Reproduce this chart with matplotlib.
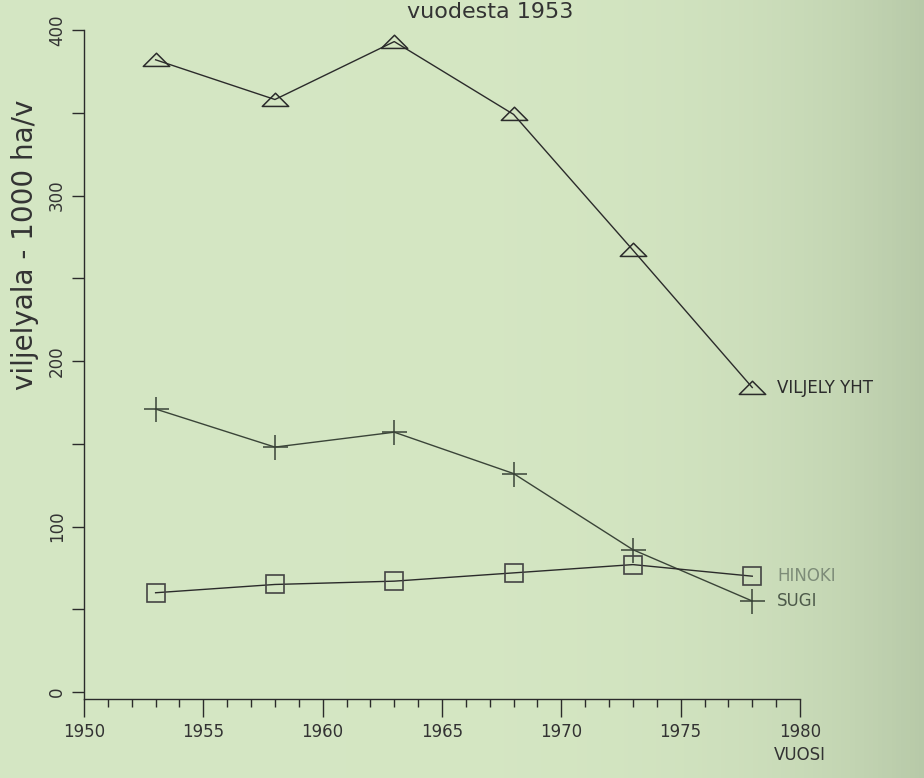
import numpy as np
import matplotlib.pyplot as plt
from matplotlib.path import Path
from matplotlib.ticker import MultipleLocator

# data (1000 ha per year)
years = [1953, 1958, 1963, 1968, 1973, 1978]
viljely_yht = [382, 358, 393, 349, 267, 184]
sugi = [171, 148, 157, 132, 86, 55]
hinoki = [60, 65, 67, 72, 77, 70]

series_labels = ['VILJELY YHT', 'HINOKI', 'SUGI']
x_ticks = [1950, 1955, 1960, 1965, 1970, 1975, 1980]
y_ticks = [0, 100, 200, 300, 400]

bg = '#d3e5bf'
ink = '#2b2b2b'

W, H = 924, 778
fig = plt.figure(figsize=(W / 100, H / 100), dpi=100, facecolor=bg)

# paper background, darker only near the right edge like the scan
bg_ax = fig.add_axes([0, 0, 1, 1], zorder=-1)
grad = np.linspace(0, 1, 200) ** 6
rgb_a = np.array([0.835, 0.905, 0.765])
rgb_b = np.array([0.72, 0.79, 0.66])
img = rgb_a[None, None, :] + (rgb_b - rgb_a)[None, None, :] * grad[None, :, None]
bg_ax.imshow(img, aspect='auto', extent=[0, 1, 0, 1])
bg_ax.axis('off')

ax = fig.add_axes([84 / W, 1 - 699 / H, (800 - 84) / W, (699 - 30) / H])
ax.patch.set_alpha(0)

# flattened triangle like the plotter symbol
tri = Path([(-1.0, -0.45), (1.0, -0.45), (0.0, 0.55), (-1.0, -0.45)],
           [Path.MOVETO, Path.LINETO, Path.LINETO, Path.CLOSEPOLY])

ax.plot(years, viljely_yht, color=ink, lw=1.0, marker=tri, ms=19,
        mfc='none', mec=ink, mew=1.1)
ax.plot(years, sugi, color='#3a4438', lw=1.0, marker='+', ms=18,
        mec='#3a4438', mew=1.1)
ax.plot(years, hinoki, color=ink, lw=1.0, marker='s', ms=13,
        mfc='none', mec='#444', mew=1.2)

ax.set_xlim(1950, 1980)
ax.set_ylim(-4.2, 400)

for side in ['top', 'right']:
    ax.spines[side].set_visible(False)
for side in ['left', 'bottom']:
    ax.spines[side].set_color(ink)
    ax.spines[side].set_linewidth(1.0)

ax.set_xticks(x_ticks)
ax.xaxis.set_minor_locator(MultipleLocator(1))
ax.set_yticks(y_ticks)
ax.yaxis.set_minor_locator(MultipleLocator(50))
ax.tick_params(axis='x', which='major', direction='out', length=13, width=1,
               color=ink, labelsize=12, labelcolor='#333', pad=4)
ax.tick_params(axis='x', which='minor', direction='out', length=6, width=1, color=ink)
ax.tick_params(axis='y', which='major', direction='out', length=9, width=1,
               color=ink, labelsize=12, labelcolor='#333', pad=4)
ax.tick_params(axis='y', which='minor', direction='out', length=9, width=1, color=ink)
for lab in ax.get_yticklabels():
    lab.set_rotation(90)
    lab.set_va('center')

# series labels at the end of each line
label_vals = [viljely_yht[-1], hinoki[-1], sugi[-1]]
label_cols = ['#2b2b2b', '#7d8c78', '#4d5a4a']
for txt, val, col in zip(series_labels, label_vals, label_cols):
    ax.annotate(txt, (years[-1], val), xytext=(18, 0), textcoords='offset points',
                va='center', ha='left', fontsize=12, color=col, annotation_clip=False)

fig.text(25 / W, 1 - 245 / H, 'viljelyala - 1000 ha/v', rotation=90,
         ha='center', va='center', fontsize=20, color='#333')
fig.text(800 / W, 1 - 755 / H, 'VUOSI', ha='center', va='center',
         fontsize=12, color='#333')
fig.text(490 / W, 1 - 2 / H, 'vuodesta 1953', ha='center', va='top',
         fontsize=16, color='#333')

fig.savefig('out.png', dpi=100)
